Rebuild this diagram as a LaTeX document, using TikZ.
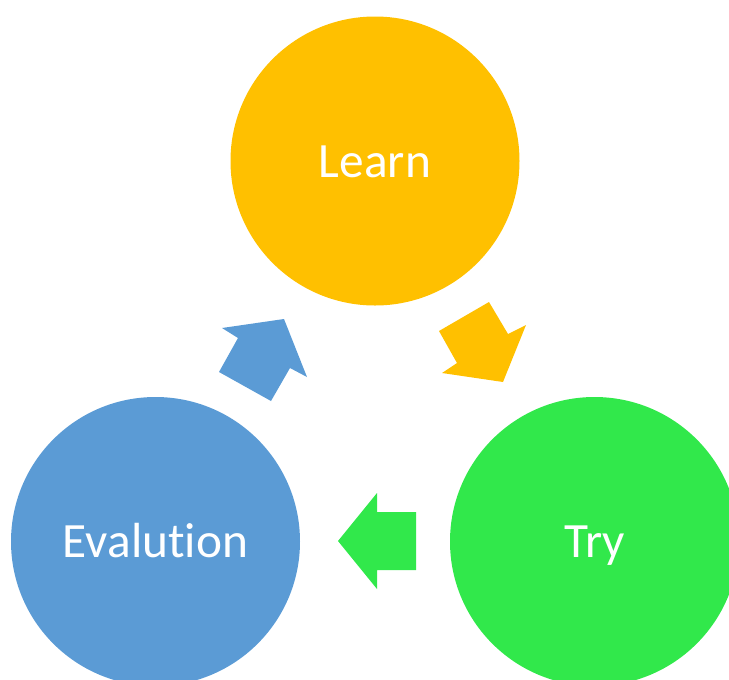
\documentclass[tikz,border=0pt]{standalone}
\usepackage{fontspec}
\setmainfont{Carlito}[Ligatures={NoCommon,NoContextual}]
\usepackage{xcolor}
\definecolor{learnorange}{RGB}{255,192,0}
\definecolor{trygreen}{RGB}{49,232,75}
\definecolor{evalblue}{RGB}{91,155,213}
\tikzset{
  bubble/.style={circle, minimum size=216.75pt, inner sep=0pt, text=white,
    font=\fontsize{37}{44}\selectfont, text height=24pt, text depth=0pt},
}

\begin{document}
\begin{tikzpicture}[x=0.75pt, y=-0.75pt]
          \useasboundingbox (0,0) rectangle (729,679);
          \node[bubble, fill=learnorange] (learn) at (375,161) {Learn};
          \node[bubble, fill=trygreen] (try) at (594.5,541.5) {Try};
          \node[bubble, fill=evalblue] (eval) at (155.5,541.5) {Evalution};
          % Learn to Try
          \fill[learnorange] (439,331) -- (489,302) -- (508,334) -- (526,325) -- (503,382) -- (442,373) -- (457,363) -- cycle;
          % Try to Evalution
          \fill[trygreen] (416,512) -- (416,570) -- (377,570) -- (377,589) -- (338,541) -- (377,493) -- (377,512) -- cycle;
          % Evalution to Learn
          \fill[evalblue] (219,372) -- (238,338) -- (222,328) -- (284,319) -- (307,377) -- (290,368) -- (271,401) -- cycle;
        \end{tikzpicture}
\end{document}
